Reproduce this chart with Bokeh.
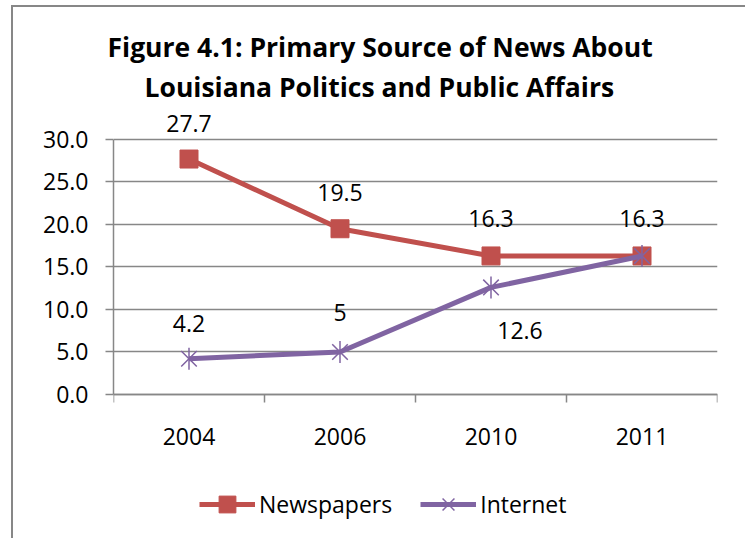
from bokeh.plotting import figure
from bokeh.models import (ColumnDataSource, LabelSet, Title, FixedTicker,
                          NumeralTickFormatter, Range1d)
from bokeh.core.properties import value
from bokeh.embed import file_html
from bokeh.resources import INLINE

# ---- data ----
years = ["2004", "2006", "2010", "2011"]
newspapers = [27.7, 19.5, 16.3, 16.3]
internet = [4.2, 5.0, 12.6, 16.3]
newspaper_labels = ["27.7", "19.5", "16.3", "16.3"]
internet_labels = ["4.2", "5", "12.6"]
y_ticks = [0, 5, 10, 15, 20, 25, 30]

FONT = "Open Sans"
GRID = "#878787"
RED = "#C0504D"
PURPLE = "#8064A2"

xpos = [i + 0.5 for i in range(len(years))]
bounds = list(range(len(years) + 1))

# plot area extends below the x axis so the legend can sit under it
p = figure(width=734, height=533, output_backend="svg", toolbar_location=None,
           x_range=Range1d(0, len(years)), y_range=Range1d(-17.18, 34),
           min_border_left=100, min_border_right=30, min_border_bottom=0,
           min_border_top=98)
p.styles = {"border-left": "2px solid #878787", "border-top": "2px solid #878787",
            "margin-left": "11px", "margin-top": "5px"}
p.outline_line_color = None
p.background_fill_color = "white"
p.border_fill_color = "white"

# titles
p.title.text = "Figure 4.1: Primary Source of News About"
p.title.align = "left"
p.title.offset = -6
p.title.text_font = FONT
p.title.text_font_size = "26.5px"
p.title.text_font_style = "bold"
p.title.text_color = "black"
p.title.standoff = 2
t2 = Title(text="Louisiana Politics and Public Affairs", align="left", offset=31,
           text_font=FONT, text_font_size="26.5px", text_font_style="bold",
           text_color="black", standoff=2)
p.add_layout(t2, "above")

# axes
xa = p.xaxis[0]
xa.fixed_location = 0
xa.ticker = FixedTicker(ticks=xpos, minor_ticks=bounds)
xa.major_label_overrides = {x: y for x, y in zip(xpos, years)}
xa.major_tick_line_color = None
xa.major_tick_out = 8
xa.major_tick_in = 0
xa.minor_tick_line_color = GRID
xa.minor_tick_line_width = 1.5
xa.minor_tick_out = 8
xa.minor_tick_in = 0
xa.axis_line_color = GRID
xa.axis_line_width = 1.5
xa.major_label_standoff = 26
xa.major_label_text_font = FONT
xa.major_label_text_font_size = "23px"
xa.major_label_text_color = "black"

ya = p.yaxis[0]
ya.ticker = FixedTicker(ticks=y_ticks, minor_ticks=[])
ya.formatter = NumeralTickFormatter(format="0.0")
ya.bounds = (min(y_ticks), max(y_ticks))
ya.major_tick_line_color = GRID
ya.major_tick_line_width = 1.5
ya.major_tick_out = 8
ya.major_tick_in = 0
ya.minor_tick_line_color = None
ya.axis_line_color = GRID
ya.axis_line_width = 1.5
ya.major_label_standoff = 17
ya.major_label_text_font = FONT
ya.major_label_text_font_size = "23px"
ya.major_label_text_color = "black"

p.xgrid.grid_line_color = None
p.ygrid.ticker = FixedTicker(ticks=y_ticks)
p.ygrid.grid_line_color = GRID
p.ygrid.grid_line_width = 1.5

# series
src_n = ColumnDataSource(dict(x=xpos, y=newspapers))
src_i = ColumnDataSource(dict(x=xpos, y=internet))

p.line("x", "y", source=src_n, line_color=RED, line_width=5, legend_label="Newspapers")
p.scatter("x", "y", source=src_n, marker="square", size=18, fill_color=RED,
          line_color=RED, legend_label="Newspapers")

p.line("x", "y", source=src_i, line_color=PURPLE, line_width=5, legend_label="Internet")
p.scatter("x", "y", source=src_i, marker="x", size=22, line_color=PURPLE,
          line_width=1.5, legend_label="Internet")
p.scatter("x", "y", source=src_i, marker="dash", size=22, angle=1.5708,
          line_color=PURPLE, line_width=1.5, legend_label="Internet")

# data labels
lab_n = ColumnDataSource(dict(x=xpos, y=newspapers, t=newspaper_labels,
                              dx=[0, 0, 0, 0], dy=[36, 36, 37, 37]))
n_i = len(internet_labels)
lab_i = ColumnDataSource(dict(x=xpos[:n_i], y=internet[:n_i], t=internet_labels,
                              dx=[0, 0, 29], dy=[35, 39, -43]))
for s in (lab_n, lab_i):
    p.add_layout(LabelSet(x="x", y="y", text="t", source=s, x_offset="dx", y_offset="dy",
                          text_align="center", text_baseline="middle",
                          text_font=value(FONT), text_font_size="23px",
                          text_color="black"))

# legend
lg = p.legend[0]
lg.orientation = "horizontal"
lg.location = (86, 15)
lg.border_line_color = None
lg.background_fill_alpha = 0
lg.padding = 0
lg.margin = 0
lg.spacing = 28
lg.glyph_width = 56
lg.glyph_height = 42
lg.label_standoff = 4
lg.label_text_font = FONT
lg.label_text_font_size = "23px"
lg.label_text_color = "black"

open("out.html", "w").write(file_html(p, INLINE))
